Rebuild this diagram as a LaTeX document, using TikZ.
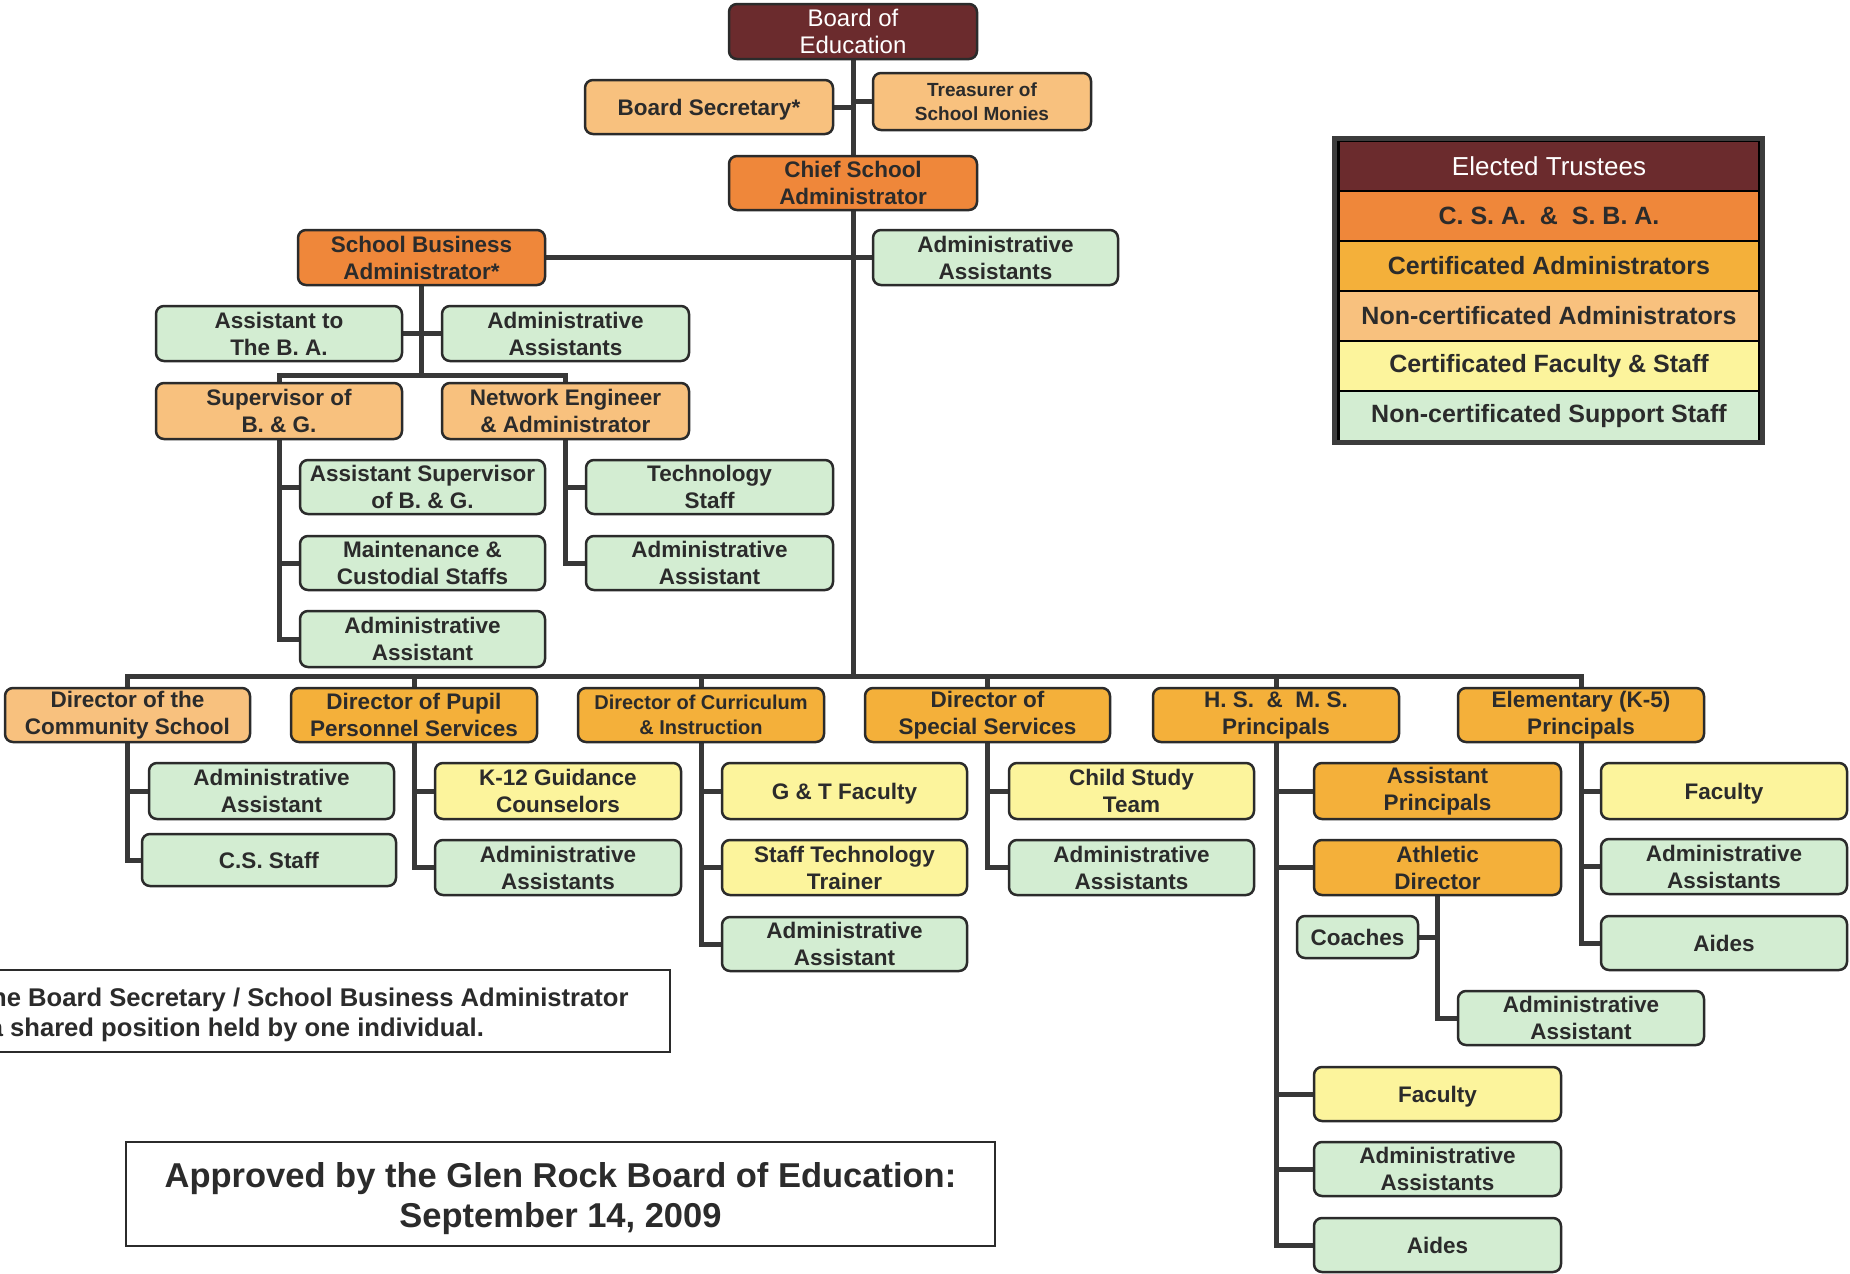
\documentclass[tikz,border=0pt]{standalone}
\usepackage{fontspec}
\setmainfont{Liberation Sans}
\usetikzlibrary{backgrounds}
\definecolor{cMaroon}{HTML}{6B2B2D}
\definecolor{cOrange}{HTML}{EF873A}
\definecolor{cAmber}{HTML}{F4B03A}
\definecolor{cPeach}{HTML}{F8C17E}
\definecolor{cYellow}{HTML}{FCF49C}
\definecolor{cGreen}{HTML}{D3EDD2}
\definecolor{cText}{HTML}{2B2B2B}
\definecolor{cLine}{HTML}{383838}
\definecolor{cFrame}{HTML}{3C3C3C}
\tikzset{
  box/.style={draw=cText, line width=2.5pt, rounded corners=8pt, align=center,
    inner sep=2pt, text=cText, font=\bfseries\fontsize{22.5}{27}\selectfont},
  oneline/.style={text height=16pt, text depth=0pt},
  maroonbox/.style={fill=cMaroon, text=white, font=\fontsize{24}{27}\selectfont},
  orangebox/.style={fill=cOrange},
  amberbox/.style={fill=cAmber},
  peachbox/.style={fill=cPeach},
  yellowbox/.style={fill=cYellow},
  greenbox/.style={fill=cGreen},
  conn/.style={line width=5pt, draw=cLine},
  legrow/.style={draw=black, line width=2.5pt, minimum width=421pt, minimum height=50pt,
    inner sep=0pt, text=cText, font=\bfseries\fontsize{25}{28}\selectfont},
  notetext/.style={inner sep=0pt, text=cText, font=\bfseries\fontsize{25.6}{28}\selectfont},
}
\newcommand\bx[7]{\node[box,#2,minimum width={(#5)-(#3)}, minimum height={(#6)-(#4)}] (#1) at ({((#3)+(#5))/2},{((#4)+(#6))/2}) {#7};}
\begin{document}
\begin{tikzpicture}[x=1pt,y=-1pt]
\useasboundingbox (0,0) rectangle (1850,1274);
\begin{scope}[on background layer]
\fill[white] (0,0) rectangle (1850,1274);
\end{scope}
\clip (0,0) rectangle (1850,1274);

% top
\bx{board}{maroonbox}{729}{4}{977}{59}{Board of\\Education}
\bx{bsec}{peachbox,oneline}{585}{80}{833}{134}{Board Secretary*}
\bx{treas}{peachbox,font=\bfseries\fontsize{19}{24}\selectfont}{873}{73}{1091}{130}{Treasurer of\\School Monies}
\bx{csa}{orangebox}{729}{156}{977}{210}{Chief School\\Administrator}
\bx{sba}{orangebox}{298}{230}{545}{285}{School Business\\Administrator*}
\bx{aatop}{greenbox}{873}{230}{1118}{285}{Administrative\\Assistants}
\bx{asstba}{greenbox}{156}{306}{402}{361}{Assistant to\\The B. A.}
\bx{aasba}{greenbox}{442}{306}{689}{361}{Administrative\\Assistants}
\bx{sup}{peachbox}{156}{383}{402}{439}{Supervisor of\\B. \& G.}
\bx{net}{peachbox}{442}{383}{689}{439}{Network Engineer\\\& Administrator}
\bx{asup}{greenbox}{300}{460}{545}{514}{Assistant Supervisor\\of B. \& G.}
\bx{maint}{greenbox}{300}{536}{545}{590}{Maintenance \&\\Custodial Staffs}
\bx{aasup}{greenbox}{300}{611}{545}{667}{Administrative\\Assistant}
\bx{tech}{greenbox}{586}{460}{833}{514}{Technology\\Staff}
\bx{aanet}{greenbox}{586}{536}{833}{590}{Administrative\\Assistant}

% directors
\bx{dcs}{peachbox}{5}{688}{250}{742}{Director of the\\Community School}
\bx{dpp}{amberbox}{291}{688}{537}{742}{Director of Pupil\\Personnel Services}
\bx{dci}{amberbox,font=\bfseries\fontsize{20}{25}\selectfont}{578}{688}{824}{742}{Director of Curriculum\\\& Instruction}
\bx{dss}{amberbox}{865}{688}{1110}{742}{Director of\\Special Services}
\bx{dhs}{amberbox}{1153}{688}{1399}{742}{H. S.\ \ \&\ \ M. S.\\Principals}
\bx{del}{amberbox}{1458}{688}{1704}{742}{Elementary (K-5)\\Principals}

% children
\bx{aacs}{greenbox}{149}{763}{394}{819}{Administrative\\Assistant}
\bx{css}{greenbox,oneline}{142}{834}{396}{886}{C.S. Staff}
\bx{k12}{yellowbox}{435}{763}{681}{819}{K-12 Guidance\\Counselors}
\bx{aapp}{greenbox}{435}{840}{681}{895}{Administrative\\Assistants}
\bx{gt}{yellowbox,oneline}{722}{763}{967}{819}{G \& T Faculty}
\bx{stt}{yellowbox}{722}{840}{967}{895}{Staff Technology\\Trainer}
\bx{aaci}{greenbox}{722}{917}{967}{971}{Administrative\\Assistant}
\bx{cst}{yellowbox}{1009}{763}{1254}{819}{Child Study\\Team}
\bx{aass}{greenbox}{1009}{840}{1254}{895}{Administrative\\Assistants}
\bx{ap}{amberbox}{1314}{763}{1561}{819}{Assistant\\Principals}
\bx{ad}{amberbox}{1314}{840}{1561}{895}{Athletic\\Director}
\bx{coach}{greenbox,oneline}{1297}{916}{1418}{958}{Coaches}
\bx{aaad}{greenbox}{1458}{991}{1704}{1045}{Administrative\\Assistant}
\bx{fhs}{yellowbox,oneline}{1314}{1067}{1561}{1121}{Faculty}
\bx{aahs}{greenbox}{1314}{1142}{1561}{1196}{Administrative\\Assistants}
\bx{aideshs}{greenbox,oneline}{1314}{1218}{1561}{1272}{Aides}
\bx{fel}{yellowbox,oneline}{1601}{763}{1847}{819}{Faculty}
\bx{aael}{greenbox}{1601}{839}{1847}{894}{Administrative\\Assistants}
\bx{aidesel}{greenbox,oneline}{1601}{916}{1847}{970}{Aides}

% connectors
\coordinate (dbar) at (853,676);
\coordinate (sbar) at (421.5,375);
\begin{scope}[on background layer]
\draw[conn] (board.south) -- (csa.north);
\draw[conn] (bsec.east) -- (bsec.east -| board.south);
\draw[conn] (treas.west) -- (treas.west -| board.south);
\draw[conn] (csa.south) -- (dbar);
\draw[conn] (sba.east) -- (aatop.west);
\draw[conn] (sba.south) -- (sbar);
\draw[conn] (asstba.east) -- (aasba.west);
\draw[conn] (sup.north) |- (sbar) -| (net.north);
\foreach \c in {asup,maint,aasup} \draw[conn] (sup.south) |- (\c.west);
\foreach \c in {tech,aanet} \draw[conn] (net.south) |- (\c.west);
\draw[conn] (dcs.north) |- (dbar) -| (del.north);
\foreach \n in {dpp,dci,dss,dhs} \draw[conn] (\n.north) -- (\n.north |- dbar);
\foreach \c in {aacs,css} \draw[conn] (dcs.south) |- (\c.west);
\foreach \c in {k12,aapp} \draw[conn] (dpp.south) |- (\c.west);
\foreach \c in {gt,stt,aaci} \draw[conn] (dci.south) |- (\c.west);
\foreach \c in {cst,aass} \draw[conn] (dss.south) |- (\c.west);
\foreach \c in {ap,ad,fhs,aahs,aideshs} \draw[conn] (dhs.south) |- (\c.west);
\draw[conn] (ad.south) |- (aaad.west);
\draw[conn] (coach.east) -- (coach.east -| ad.south);
\foreach \c in {fel,aael,aidesel} \draw[conn] (del.south) |- (\c.west);
\end{scope}

% legend
\node[legrow, fill=cMaroon, text=white, font=\fontsize{26}{29}\selectfont] (l1) at (1549,166) {Elected Trustees};
\node[legrow, fill=cOrange] (l2) at (1549,216) {C. S. A.\ \ \&\ \ S. B. A.};
\node[legrow, fill=cAmber] (l3) at (1549,266) {Certificated Administrators};
\node[legrow, fill=cPeach] (l4) at (1549,316) {Non-certificated Administrators};
\node[legrow, fill=cYellow] (l5) at (1549,366) {Certificated Faculty \& Staff};
\node[legrow, fill=cGreen] (l6) at (1549,416) {Non-certificated Support Staff};
\draw[line width=5pt, draw=cFrame] (1334.5,138.5) rectangle (1762.5,442.5);

% footnote
\draw[line width=2.5pt, draw=cText] (-20,970) rectangle (670,1052);
\node[notetext, anchor=base west] (fn1) at (28,1006) {\llap{* The }Board Secretary / School Business Administrator};
\node[notetext, anchor=base west] (fn2) at (10,1036) {\llap{is a }shared position held by one individual.};

% approval
\node[draw=cText, line width=2.5pt, minimum width=869pt, minimum height=104pt] (appr) at (560.5,1194) {};
\node[align=center, text=cText, font=\bfseries\fontsize{34.5}{40}\selectfont] (apprtext) at (560.5,1199)
  {Approved by the Glen Rock Board of Education:\\September 14, 2009};
\end{tikzpicture}
\end{document}
